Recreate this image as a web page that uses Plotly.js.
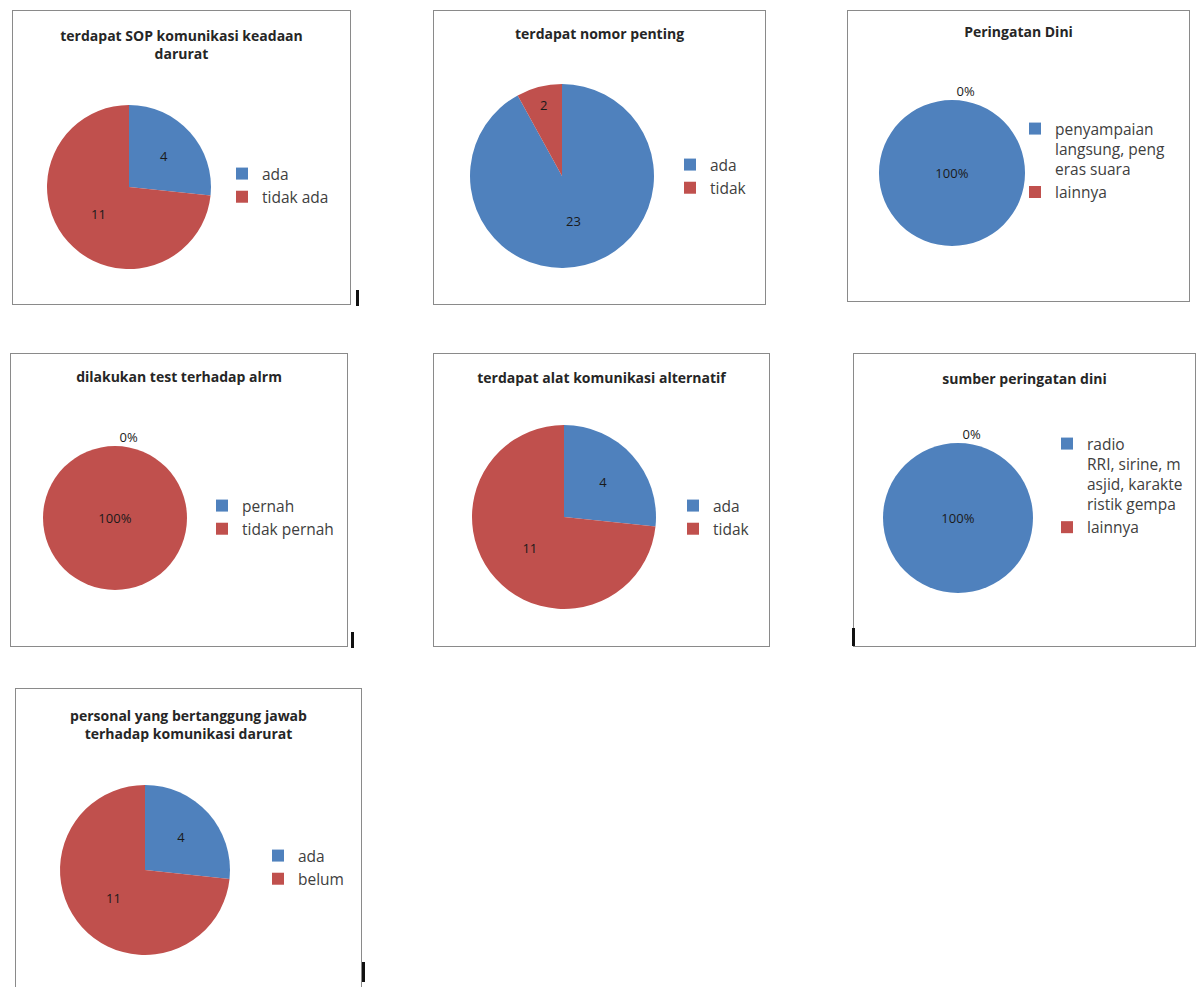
<!DOCTYPE html>
<html>
<head>
<meta charset="utf-8">
<script src="https://cdn.plot.ly/plotly-3.0.1.min.js"></script>
<style>
  html, body { margin: 0; padding: 0; background: #ffffff; width: 1202px; height: 987px; overflow: hidden; position: relative; }
  .panel { position: absolute; box-sizing: border-box; border: 1px solid #8a8a8a; background: #ffffff; }
  .tick { position: absolute; width: 3px; background: #111; }
</style>
</head>
<body>
<script>
// ---------- data ----------
const sopLabels = ['ada', 'tidak ada'];
const sopValues = [4, 11];

const nomorLabels = ['ada', 'tidak'];
const nomorValues = [23, 2];

const diniLabels = ['penyampaian<br>langsung, peng<br>eras suara', 'lainnya'];
const diniValues = [100, 0];

const alarmLabels = ['pernah', 'tidak pernah'];
const alarmValues = [0, 100];

const alatLabels = ['ada', 'tidak'];
const alatValues = [4, 11];

const sumberLabels = ['radio<br>RRI, sirine, m<br>asjid, karakte<br>ristik gempa', 'lainnya'];
const sumberValues = [100, 0];

const personalLabels = ['ada', 'belum'];
const personalValues = [4, 11];

const titles = [
  'terdapat SOP komunikasi keadaan<br>darurat',
  'terdapat nomor penting',
  'Peringatan Dini',
  'dilakukan test terhadap alrm',
  'terdapat alat komunikasi alternatif',
  'sumber peringatan dini',
  'personal yang bertanggung jawab<br>terhadap komunikasi darurat'
];

// ---------- style ----------
const BLUE = '#4F81BD';
const RED = '#C0504D';
const FONT = '"Open Sans", Lato, "DejaVu Sans", sans-serif';

const panels = [
  {labels: sopLabels, values: sopValues, info: 'value', box: [12, 10, 339, 295], pie: [129, 187, 82], leg: [262, 174], ty: 35, multi: true},
  {labels: nomorLabels, values: nomorValues, info: 'value', box: [433, 10, 333, 295], pie: [562, 176, 92], leg: [710, 165], ty: 35},
  {labels: diniLabels, values: diniValues, info: 'percent', box: [847, 10, 343, 292], pie: [952, 173, 73], leg: [1055, 129], ty: 33},
  {labels: alarmLabels, values: alarmValues, info: 'percent', box: [10, 353, 338, 294], pie: [115, 518, 72], leg: [242, 506], ty: 378},
  {labels: alatLabels, values: alatValues, info: 'value', box: [433, 353, 337, 294], pie: [564, 517, 92], leg: [713, 506], ty: 379},
  {labels: sumberLabels, values: sumberValues, info: 'percent', box: [853, 353, 343, 294], pie: [958, 518, 75], leg: [1087, 444], ty: 380},
  {labels: personalLabels, values: personalValues, info: 'value', box: [15, 688, 347, 310], pie: [145, 870, 85], leg: [298, 856], ty: 715, multi: true}
];

panels.forEach((p, i) => {
  const [l, t, w, h] = p.box;
  const wrap = document.createElement('div');
  wrap.className = 'panel';
  wrap.style.left = l + 'px'; wrap.style.top = t + 'px';
  wrap.style.width = w + 'px'; wrap.style.height = h + 'px';
  document.body.appendChild(wrap);
  const div = document.createElement('div');
  wrap.appendChild(div);
  const W = w - 2, H = h - 2;
  const X = px => (px - l - 1) / W;
  const Y = py => 1 - (py - t - 1) / H;
  const [cx, cy, r] = p.pie;
  const trace = {
    type: 'pie',
    labels: p.labels,
    values: p.values,
    sort: false,
    direction: 'clockwise',
    rotation: 0,
    marker: {colors: [BLUE, RED], line: {width: 0}},
    textinfo: p.info,
    texttemplate: p.info === 'percent' ? '%{percent:.0%}' : '%{value}',
    textposition: p.values.map(v => v === 0 ? 'outside' : 'inside'),
    insidetextorientation: 'horizontal',
    textfont: {family: FONT, size: 13, color: '#1a1a1a'},
    showlegend: true,
    domain: {x: [X(cx - r), X(cx + r)], y: [Y(cy + r), Y(cy - r)]},
    hoverinfo: 'skip'
  };
  const titleTop = p.multi ? p.ty + 6 : p.ty - 6;
  const layout = {
    width: W, height: H,
    margin: {l: 0, r: 0, t: 0, b: 0},
    paper_bgcolor: 'rgba(0,0,0,0)',
    plot_bgcolor: 'rgba(0,0,0,0)',
    font: {family: FONT, color: '#404040'},
    title: {
      text: titles[i],
      x: 0.5, xanchor: 'center',
      y: Y(titleTop), yanchor: 'top', yref: 'paper',
      font: {family: FONT, size: 14, color: '#262626', weight: 700}
    },
    showlegend: true,
    legend: {
      x: X(p.leg[0] - 40), xanchor: 'left',
      y: Y(p.leg[1] - 17), yanchor: 'top',
      font: {family: FONT, size: 15.5, color: '#404040'},
      bgcolor: 'rgba(0,0,0,0)', borderwidth: 0,
      traceorder: 'normal', valign: 'top'
    }
  };
  Plotly.newPlot(div, [trace], layout, {staticPlot: true, displayModeBar: false});
});

// small scan artefact bars
[[356, 290, 16], [351, 632, 16], [852, 628, 18], [362, 962, 20]].forEach(([x, y, hh]) => {
  const d = document.createElement('div');
  d.className = 'tick';
  d.style.left = x + 'px'; d.style.top = y + 'px'; d.style.height = hh + 'px';
  document.body.appendChild(d);
});
</script>
</body>
</html>
